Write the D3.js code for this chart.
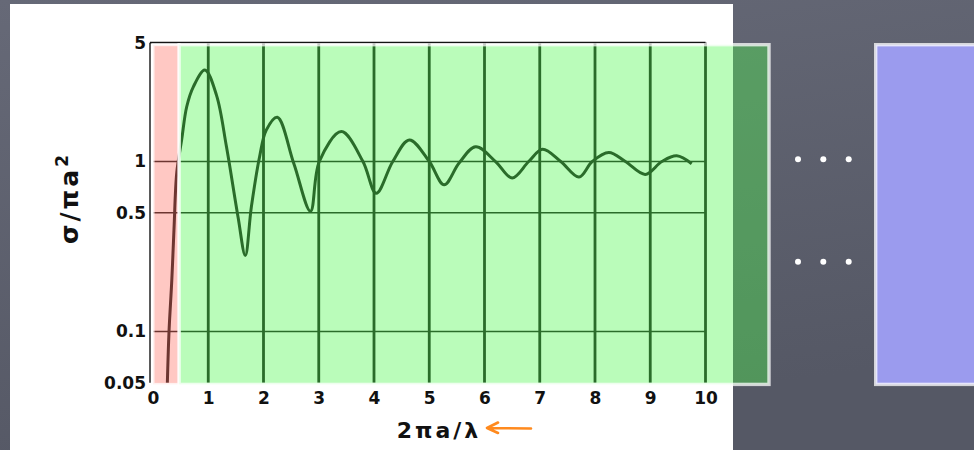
<!DOCTYPE html>
<html>
<head>
<meta charset="utf-8">
<script src="https://cdn.jsdelivr.net/npm/d3@7"></script>
<style>
  body { margin: 0; background: #5c5f6c; }
  svg { display: block; }
  .tick text { font-family: "DejaVu Sans", sans-serif; font-weight: bold; font-size: 17px; fill: #111; }
</style>
</head>
<body>
<svg id="chart"></svg>
<script>
// axis ticks
const xTicks = [0, 1, 2, 3, 4, 5, 6, 7, 8, 9, 10]
const xTickLabels = ['0', '1', '2', '3', '4', '5', '6', '7', '8', '9', '10']
const yTicks = [5, 1, 0.5, 0.1, 0.05]
const yTickLabels = ['5', '1', '0.5', '0.1', '0.05']
const xGrid = [1, 2, 3, 4, 5, 6, 7, 8, 9, 10]
const yGrid = [1, 0.5, 0.1]

// sigma / pi a^2
const curveX = [0.26, 0.29, 0.34, 0.38, 0.43, 0.52, 0.61, 0.73, 0.94, 1.15, 1.33, 1.54, 1.67, 1.78, 1.93, 2.05, 2.25,
    2.55, 2.85, 3.01, 3.41, 3.80, 4.04, 4.34, 4.64, 5.00, 5.27, 5.54, 5.84, 6.20, 6.50, 6.80, 7.05, 7.38, 7.71,
    7.95, 8.25, 8.55, 8.91, 9.21, 9.48, 9.75]
const curveY = [0.05, 0.10, 0.20, 0.40, 0.86, 1.35, 2.10, 2.75, 3.45, 2.45, 1.22, 0.47, 0.28, 0.54, 1.07, 1.53, 1.82,
    0.97, 0.51, 1.00, 1.50, 1.00, 0.65, 1.00, 1.34, 1.00, 0.73, 0.98, 1.22, 1.00, 0.80, 1.00, 1.18, 1.00, 0.81,
    1.00, 1.13, 1.00, 0.84, 1.00, 1.08, 0.97]

// regions highlighted on the slide (x in data units)
const pinkRange = [0, 0.5]
const dotRows = [159.3, 261.7]
const dotCols = [798, 823.3, 848.7]

const W = 974, H = 450

const svg = d3.select('#chart')
    .attr('width', W)
    .attr('height', H)

const defs = svg.append('defs')
const bg = defs.append('linearGradient')
    .attr('id', 'bg')
    .attr('x1', 0).attr('y1', 0).attr('x2', 0.3).attr('y2', 1)
bg.append('stop').attr('offset', '0%').attr('stop-color', '#666977')
bg.append('stop').attr('offset', '100%').attr('stop-color', '#555865')

svg.append('rect')
    .attr('width', W)
    .attr('height', H)
    .attr('fill', 'url(#bg)')

// scanned paper
svg.append('rect')
    .attr('x', 10)
    .attr('y', 4)
    .attr('width', 723)
    .attr('height', H)
    .attr('fill', '#ffffff')

const x = d3.scaleLinear().domain([0, 10]).range([153, 705.5])
const y = d3.scaleLog().domain([0.05, 5]).range([382.7, 42.7])

const ink = '#141414'
const chart = svg.append('g')

// frame
chart.append('line')
    .attr('x1', x(0) - 3).attr('x2', x(10))
    .attr('y1', y(5)).attr('y2', y(5))
    .attr('stroke', ink).attr('stroke-width', 1.8)
chart.append('line')
    .attr('x1', x(0) - 3).attr('x2', x(0) - 3)
    .attr('y1', y(5)).attr('y2', y(0.05))
    .attr('stroke', ink).attr('stroke-width', 1.4)

chart.selectAll('.vgrid')
    .data(xGrid)
    .join('line')
    .attr('class', 'vgrid')
    .attr('x1', d => x(d)).attr('x2', d => x(d))
    .attr('y1', y(5)).attr('y2', y(0.05))
    .attr('stroke', ink)
    .attr('stroke-width', 2.8)

chart.selectAll('.hgrid')
    .data(yGrid)
    .join('line')
    .attr('class', 'hgrid')
    .attr('x1', x(0)).attr('x2', x(10))
    .attr('y1', d => y(d)).attr('y2', d => y(d))
    .attr('stroke', ink)
    .attr('stroke-width', 1.6)

const pts = curveX.map((d, i) => [d, curveY[i]])
const line = d3.line()
    .x(d => x(d[0]))
    .y(d => y(d[1]))
    .curve(d3.curveCatmullRom.alpha(0.5))

chart.append('path')
    .datum(pts)
    .attr('d', line)
    .attr('fill', 'none')
    .attr('stroke', ink)
    .attr('stroke-width', 3)
    .attr('stroke-linejoin', 'round')

// tick labels
const xAxis = d3.axisBottom(x)
    .tickValues(xTicks)
    .tickFormat((d, i) => xTickLabels[i])
    .tickSize(0)
    .tickPadding(9)
svg.append('g')
    .attr('transform', `translate(0,${y(0.05)})`)
    .call(xAxis)
    .call(g => g.select('.domain').remove())

const yAxis = d3.axisLeft(y)
    .tickValues(yTicks)
    .tickFormat((d, i) => yTickLabels[i])
    .tickSize(0)
    .tickPadding(3)
svg.append('g')
    .attr('transform', `translate(${x(0) - 4},0)`)
    .call(yAxis)
    .call(g => g.select('.domain').remove())

// overlays
const boxTop = y(5) + 2
const boxBottom = y(0.05) + 1.7
const edge = 'rgba(255,255,255,0.75)'

svg.append('rect')
    .attr('x', x(pinkRange[0]))
    .attr('y', boxTop)
    .attr('width', x(pinkRange[1]) - 1.5 - x(pinkRange[0]))
    .attr('height', boxBottom - boxTop)
    .attr('fill', 'rgba(255,110,97,0.38)')
    .attr('stroke', edge)
    .attr('stroke-width', 3)

svg.append('rect')
    .attr('x', x(pinkRange[1]) - 1.5)
    .attr('y', boxTop)
    .attr('width', 769 - (x(pinkRange[1]) - 1.5))
    .attr('height', boxBottom - boxTop)
    .attr('fill', 'rgba(76,248,76,0.39)')
    .attr('stroke', edge)
    .attr('stroke-width', 3.4)

svg.append('rect')
    .attr('x', 875.7)
    .attr('y', boxTop)
    .attr('width', 140)
    .attr('height', boxBottom - boxTop)
    .attr('fill', '#9b9bee')
    .attr('stroke', edge)
    .attr('stroke-width', 3.4)

// ellipsis dots
dotRows.forEach(ry => {
    svg.selectAll(null)
        .data(dotCols)
        .join('circle')
        .attr('cx', d => d)
        .attr('cy', ry)
        .attr('r', 3)
        .attr('fill', '#ffffff')
})

// axis titles
svg.append('text')
    .attr('transform', 'translate(78,198) rotate(-90)')
    .attr('text-anchor', 'middle')
    .style('font-family', '"DejaVu Sans", sans-serif')
    .style('font-weight', 'bold')
    .style('font-size', '25px')
    .style('letter-spacing', '3px')
    .attr('fill', '#111')
    .text('σ/πa')
    .append('tspan')
    .attr('dy', -10)
    .style('font-size', '17px')
    .text('2')

svg.append('text')
    .attr('x', 439)
    .attr('y', 438)
    .attr('text-anchor', 'middle')
    .style('font-family', '"DejaVu Sans", sans-serif')
    .style('font-weight', 'bold')
    .style('font-size', '22px')
    .style('letter-spacing', '3px')
    .attr('fill', '#111')
    .text('2πa/λ')

svg.append('path')
    .attr('d', 'M531,428.5 L487,428 M498,422.5 L487,428 L498,433')
    .attr('fill', 'none')
    .attr('stroke', '#ff8a1e')
    .attr('stroke-width', 2.6)
    .attr('stroke-linecap', 'round')
    .attr('stroke-linejoin', 'round')
</script>
</body>
</html>
